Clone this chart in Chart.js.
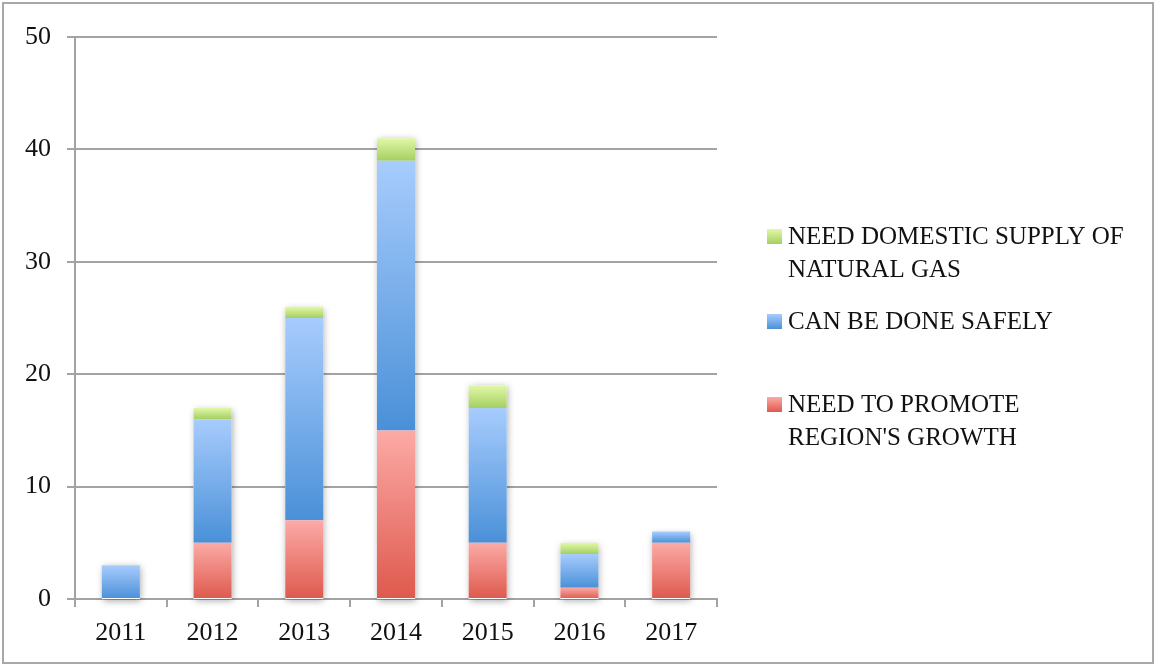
<!DOCTYPE html>
<html>
<head>
<meta charset="utf-8">
<script src="https://cdn.jsdelivr.net/npm/chart.js@4/dist/chart.umd.min.js"></script>
<style>
  html, body { margin: 0; padding: 0; background: #fff; }
  #wrap { width: 1155px; height: 665px; position: relative; }
</style>
</head>
<body>
<div id="wrap"><canvas id="c" width="1155" height="665"></canvas></div>
<script>
const years = ['2011', '2012', '2013', '2014', '2015', '2016', '2017'];
const promoteGrowth = [0, 5, 7, 15, 5, 1, 5];
const doneSafely = [3, 11, 18, 24, 12, 3, 1];
const domesticSupply = [0, 1, 1, 2, 2, 1, 0];
const yTicks = [0, 10, 20, 30, 40, 50];

const seriesNames = {
  growth: ["NEED TO PROMOTE", "REGION'S GROWTH"],
  safely: ["CAN BE DONE SAFELY"],
  supply: ["NEED DOMESTIC SUPPLY OF", "NATURAL GAS"]
};

const FONT = '"Liberation Serif", "DejaVu Serif", serif';
const GRID = '#a3a3a3';

// light-at-top / dark-at-bottom fills for each series
const shades = {
  growth: ['#fcaaa6', '#de594d'],
  safely: ['#a7ccfd', '#4a90d8'],
  supply: ['#e1f8a8', '#a5cf62']
};

function vGrad(ctx, top, bottom, pair) {
  const g = ctx.createLinearGradient(0, top, 0, bottom);
  g.addColorStop(0, pair[0]);
  g.addColorStop(1, pair[1]);
  return g;
}

// gradient spanning one stacked segment, from the segment's own start/end values
function segmentFill(context) {
  const chart = context.chart;
  const ds = chart.data.datasets[context.datasetIndex];
  const pair = shades[ds.key];
  const yScale = chart.scales.y;
  if (!chart.chartArea || !yScale) return pair[1];
  let start = 0;
  for (let k = 0; k < context.datasetIndex; k++) start += chart.data.datasets[k].data[context.dataIndex] || 0;
  const end = start + (ds.data[context.dataIndex] || 0);
  const top = yScale.getPixelForValue(end), bottom = yScale.getPixelForValue(start);
  if (!(bottom > top)) return pair[1];
  return vGrad(chart.ctx, top, bottom, pair);
}

// soft drop shadow under each full stack
const stackShadow = {
  id: 'stackShadow',
  beforeDatasetsDraw(chart) {
    const ctx = chart.ctx;
    const yScale = chart.scales.y;
    const meta0 = chart.getDatasetMeta(0);
    ctx.save();
    ctx.shadowColor = 'rgba(0,0,0,0.35)';
    ctx.shadowBlur = 7;
    ctx.shadowOffsetX = 1;
    ctx.shadowOffsetY = 2;
    ctx.fillStyle = '#ffffff';
    years.forEach((y, i) => {
      const total = chart.data.datasets.reduce((s, d) => s + (d.data[i] || 0), 0);
      if (!total) return;
      const el = meta0.data[i];
      const top = yScale.getPixelForValue(total), base = yScale.getPixelForValue(0);
      ctx.fillRect(el.x - el.width / 2, top, el.width, base - top);
    });
    ctx.restore();
  }
};

// outer frame and the legend with wrapped labels
const frameAndLegend = {
  id: 'frameAndLegend',
  afterDraw(chart) {
    const ctx = chart.ctx;
    ctx.save();
    ctx.strokeStyle = '#a8a8a8';
    ctx.lineWidth = 2;
    ctx.strokeRect(3, 3, 1150, 660);

    const items = [
      { key: 'supply', lines: seriesNames.supply, y: 237 },
      { key: 'safely', lines: seriesNames.safely, y: 322 },
      { key: 'growth', lines: seriesNames.growth, y: 405 }
    ];
    ctx.font = '25px ' + FONT;
    ctx.textBaseline = 'middle';
    items.forEach(it => {
      ctx.fillStyle = vGrad(ctx, it.y - 8, it.y + 7, shades[it.key]);
      ctx.fillRect(767, it.y - 8, 15, 15);
      ctx.fillStyle = '#111';
      it.lines.forEach((ln, k) => ctx.fillText(ln, 788, it.y + k * 33));
    });
    ctx.restore();
  }
};

new Chart(document.getElementById('c'), {
  type: 'bar',
  data: {
    labels: years,
    datasets: [
      { key: 'growth', label: seriesNames.growth.join(' '), data: promoteGrowth, backgroundColor: segmentFill },
      { key: 'safely', label: seriesNames.safely.join(' '), data: doneSafely, backgroundColor: segmentFill },
      { key: 'supply', label: seriesNames.supply.join(' '), data: domesticSupply, backgroundColor: segmentFill }
    ]
  },
  options: {
    responsive: false,
    animation: false,
    devicePixelRatio: 1,
    layout: { padding: { left: 0, right: 438, top: 37, bottom: 0 } },
    plugins: { legend: { display: false }, tooltip: { enabled: false }, colors: { enabled: false } },
    datasets: { bar: { categoryPercentage: 1, barPercentage: 0.415, borderWidth: 0 } },
    scales: {
      x: {
        stacked: true,
        afterFit(s) { s.height = 66; },
        grid: { offset: true, drawOnChartArea: false, drawTicks: true, tickLength: 8, color: GRID, lineWidth: 2 },
        border: { color: GRID, width: 2 },
        ticks: { color: '#111', font: { family: FONT, size: 26 }, padding: 11 }
      },
      y: {
        stacked: true,
        min: 0, max: 50,
        afterFit(s) { s.width = 75; },
        afterBuildTicks(s) { s.ticks = yTicks.map(v => ({ value: v })); },
        grid: { color: GRID, lineWidth: 2, tickLength: 8 },
        border: { color: GRID, width: 2 },
        ticks: { color: '#111', font: { family: FONT, size: 26 }, padding: 16 }
      }
    }
  },
  plugins: [stackShadow, frameAndLegend]
});
</script>
</body>
</html>
